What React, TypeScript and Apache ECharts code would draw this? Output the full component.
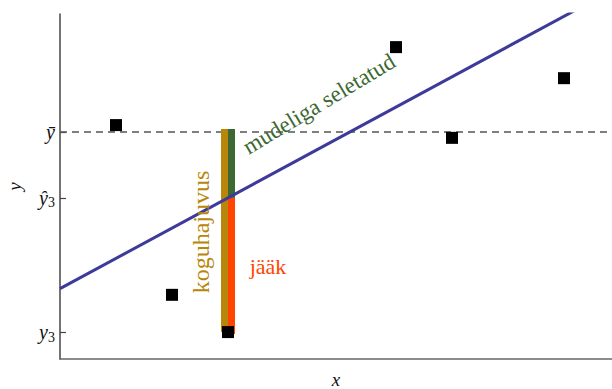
import React, { useEffect, useRef } from "react";
import * as echarts from "echarts";

// observations
const xValues = [1, 2, 3, 6, 7, 9];
const yValues = [6.78, 1.86, 0.78, 9.04, 6.41, 8.14];
// reference levels
const yMean = 6.58;
const yHat3 = 4.67;
const y3 = 0.78;
const x3 = 3;
// regression line
const intercept = 2.04;
const slope = 0.877;
// axis extents
const xMin = 0;
const xMax = 9.857;
const yMin = 0;
const yMax = 10;
// tick labels
const tickValues = [yMean, yHat3, y3];
const tickLabels = ["{i|ȳ}", "{i|ŷ}{s|3}", "{i|y}{s|3}"];
// annotation texts
const annTotal = "koguhajuvus";
const annExplained = "mudeliga seletatud";
const annResidual = "jääk";

const FONT = "Liberation Serif";

export default function App() {
  const ref = useRef<HTMLDivElement>(null);
  useEffect(() => {
    if (!ref.current) return;
    const chart = echarts.init(ref.current, null, { renderer: "svg" });
    const segments = [
      { x: x3, top: yMean, bottom: y3, side: -1, color: "#b8860b", ext: [3, 0] },
      { x: x3, top: yMean, bottom: yHat3, side: 1, color: "#3d6833", ext: [3, 0] },
      { x: x3, top: yHat3, bottom: y3, side: 1, color: "#ff4500", ext: [0, 2] },
    ];
    const option: any = {
      animation: false,
      textStyle: { fontFamily: FONT },
      grid: { left: 60, top: 14, width: 552, height: 345, containLabel: false, outerBoundsMode: "none" },
      xAxis: {
        type: "value",
        min: xMin,
        max: xMax,
        name: "x",
        nameLocation: "middle",
        nameGap: 13,
        nameTextStyle: { fontFamily: FONT, fontStyle: "italic", fontSize: 19, lineHeight: 14, color: "#111" },
        axisLine: { show: true, lineStyle: { color: "#666", width: 1.5 } },
        axisTick: { show: false },
        axisLabel: { show: false },
        splitLine: { show: false },
      },
      yAxis: {
        type: "value",
        min: yMin,
        max: yMax,
        name: "y",
        nameLocation: "middle",
        nameGap: 36,
        nameRotate: 90,
        nameTextStyle: { fontFamily: FONT, fontStyle: "italic", fontSize: 19, color: "#111" },
        axisLine: { show: true, lineStyle: { color: "#444", width: 1.5 } },
        axisTick: {
          show: true,
          inside: true,
          length: 6,
          customValues: tickValues,
          lineStyle: { color: "#444", width: 1.2 },
        },
        axisLabel: {
          show: true,
          margin: 5,
          customValues: tickValues,
          formatter: (v: number) => {
            const i = tickValues.findIndex((t) => Math.abs(t - v) < 1e-6);
            return i >= 0 ? tickLabels[i] : "";
          },
          rich: {
            i: { fontFamily: FONT, fontStyle: "italic", fontSize: 20, color: "#111", lineHeight: 20 },
            s: { fontFamily: FONT, fontSize: 14, color: "#111", lineHeight: 20, padding: [10, 0, 0, 0] },
          },
        },
        splitLine: { show: false },
      },
      series: [
        {
          type: "line",
          data: [
            [xMin, yMean],
            [xMax, yMean],
          ],
          symbol: "none",
          lineStyle: { color: "#555", width: 1.3, type: [7, 5] },
          z: 1,
        },
        {
          type: "custom",
          data: segments.map((s) => [s.x, s.top, s.bottom]),
          renderItem: (params: any, api: any) => {
            const s = segments[params.dataIndex];
            const p1 = api.coord([api.value(0), api.value(1)]);
            const p2 = api.coord([api.value(0), api.value(2)]);
            const w = 7;
            const x = s.side < 0 ? p1[0] - w : p1[0];
            return {
              type: "rect",
              shape: { x, y: p1[1] - s.ext[0], width: w, height: p2[1] - p1[1] + s.ext[0] + s.ext[1] },
              style: { fill: s.color },
            };
          },
          z: 2,
        },
        {
          type: "line",
          data: [
            [xMin, intercept + slope * xMin],
            [xMax, intercept + slope * xMax],
          ],
          symbol: "none",
          clip: true,
          lineStyle: { color: "#3d3a9a", width: 3 },
          z: 3,
        },
        {
          type: "scatter",
          data: xValues.map((x, i) => [x, yValues[i]]),
          symbol: "rect",
          symbolSize: 12,
          itemStyle: { color: "#000", opacity: 1 },
          z: 4,
        },
      ],
      graphic: [
        {
          type: "text",
          x: 201,
          y: 232,
          rotation: Math.PI / 2,
          style: {
            text: annTotal,
            fontFamily: FONT,
            fontSize: 24,
            fill: "#b8860b",
            align: "center",
            verticalAlign: "middle",
          },
          z: 10,
        },
        {
          type: "text",
          x: 319,
          y: 104,
          rotation: (31 * Math.PI) / 180,
          style: {
            text: annExplained,
            fontFamily: FONT,
            fontSize: 23,
            fill: "#3d6833",
            align: "center",
            verticalAlign: "middle",
          },
          z: 10,
        },
        {
          type: "text",
          x: 268,
          y: 266,
          style: {
            text: annResidual,
            fontFamily: FONT,
            fontSize: 22,
            fill: "#ff4500",
            align: "center",
            verticalAlign: "middle",
          },
          z: 10,
        },
      ],
    };
    chart.setOption(option);
    return () => chart.dispose();
  }, []);
  return (
    <div
      ref={ref}
      style={{ position: "fixed", left: 0, top: 0, width: 612, height: 389, background: "#fff" }}
    />
  );
}
